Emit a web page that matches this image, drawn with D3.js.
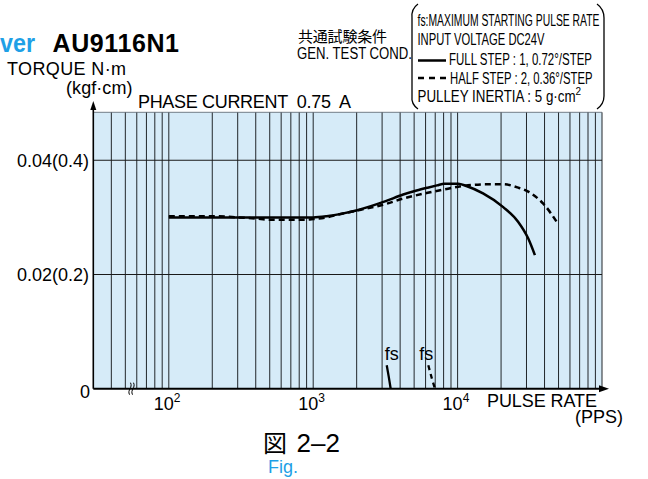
<!DOCTYPE html>
<html><head><meta charset="utf-8">
<script src="https://cdn.jsdelivr.net/npm/d3@7"></script>
<style>
html,body{margin:0;padding:0;background:#fff;}
svg{display:block;font-family:"Liberation Sans",Arial,sans-serif;}
</style></head>
<body>
<svg id="c" width="648" height="479"></svg>
<script>
// ---- data ----
const fullFreq   = [100, 200, 500, 1000, 1240, 1615, 2050, 3140, 4200, 5200, 6200, 7200, 8100, 9100, 10100, 11500, 15000, 20700, 26300, 30850, 34300];
const fullTorque = [0.0300, 0.0300, 0.0300, 0.0300, 0.0302, 0.0307, 0.0313, 0.0328, 0.0340, 0.0347, 0.0352, 0.0356, 0.0359, 0.0359, 0.0359, 0.0355, 0.0342, 0.0318, 0.0292, 0.0263, 0.0234];
const halfFreq   = [100, 200, 300, 400, 500, 700, 900, 1000, 1240, 1500, 2100, 3140, 4200, 6200, 8100, 11000, 15900, 20700, 26300, 30850, 39200, 49800];
const halfTorque = [0.0302, 0.0302, 0.0300, 0.0298, 0.0296, 0.0296, 0.0296, 0.0297, 0.0300, 0.0305, 0.0313, 0.0323, 0.0333, 0.0343, 0.0349, 0.0355, 0.0358, 0.0358, 0.0352, 0.0345, 0.0324, 0.0288];
const fsFullFreq   = [3230, 3330, 3440];
const fsFullTorque = [0.0041, 0.0022, 0.0000];
const fsHalfFreq   = [6270, 6600, 6970];
const fsHalfTorque = [0.0041, 0.0020, 0.0000];
const yTickValues = [0, 0.02, 0.04];
const yTickLabels = ["0", "0.02(0.2)", "0.04(0.4)"];
const xTickValues = [100, 1000, 10000];
const xTickBase = ["10", "10", "10"];
const xTickExp  = ["2", "3", "4"];
const legendLines = ["fs:MAXIMUM STARTING PULSE RATE", "INPUT VOLTAGE DC24V", "FULL STEP : 1, 0.72°/STEP", "HALF STEP : 2, 0.36°/STEP", "PULLEY INERTIA : 5 g·cm"];
const legendSup = ["", "", "", "", "2"];

// ---- scales ----
const x = d3.scaleLog().domain([30, 1e5]).range([93.3, 602]);
const y = d3.scaleLinear().domain([0, 0.0484]).range([388.7, 112.3]);
const svg = d3.select("#c");

// plot background
svg.append("rect").attr("x", x(30)).attr("y", y(0.0484)).attr("width", x(1e5) - x(30)).attr("height", y(0) - y(0.0484)).attr("fill", "#d6ebf8");

// vertical grid
const minor = [];
for (let e = 1; e <= 4; e++) for (let m = 1; m <= 9; m++) { const v = m * Math.pow(10, e); if (v > 30 && v <= 1e5) minor.push(v); }
minor.push(1e5);
svg.append("g").selectAll("line").data(minor).join("line")
  .attr("x1", d => x(d)).attr("x2", d => x(d)).attr("y1", y(0)).attr("y2", y(0.0484))
  .attr("stroke", "#22272b").attr("stroke-width", 1);
// horizontal grid
svg.append("g").selectAll("line").data([0.02, 0.04]).join("line")
  .attr("x1", x(30)).attr("x2", x(1e5)).attr("y1", d => y(d)).attr("y2", d => y(d))
  .attr("stroke", "#1a1a1a").attr("stroke-width", 1.1);
svg.append("line").attr("x1", x(30)).attr("x2", x(1e5)).attr("y1", y(0.0484)).attr("y2", y(0.0484)).attr("stroke", "#55606a").attr("stroke-width", 0.8);

// axes
svg.append("line").attr("x1", x(30)).attr("x2", 604).attr("y1", y(0)).attr("y2", y(0)).attr("stroke", "#000").attr("stroke-width", 2);
svg.append("path").attr("d", `M609,${y(0)} L599,${y(0) - 3.5} L599,${y(0) + 3.5} Z`).attr("fill", "#000");
svg.append("line").attr("x1", x(30)).attr("x2", x(30)).attr("y1", y(0)).attr("y2", 107).attr("stroke", "#000").attr("stroke-width", 1.6);
svg.append("path").attr("d", `M${x(30)},101 L${x(30) - 3},110 L${x(30) + 3},110 Z`).attr("fill", "#000");

// axis break mark
const bx = 131;
[0, 3].forEach(o => {
  svg.append("path").attr("d", `M${bx + o - 1.5},${y(0) + 6} C${bx + o - 4},${y(0) + 1} ${bx + o + 2},${y(0) - 1} ${bx + o - 0.5},${y(0) - 6}`)
    .attr("fill", "none").attr("stroke", "#000").attr("stroke-width", 1);
});

// curves
const line = d3.line().x(d => x(d[0])).y(d => y(d[1])).curve(d3.curveMonotoneX);
const lineY = d3.line().x(d => x(d[0])).y(d => y(d[1])).curve(d3.curveCatmullRom);
svg.append("path").attr("d", line(d3.zip(fullFreq, fullTorque))).attr("fill", "none").attr("stroke", "#000").attr("stroke-width", 2.5);
svg.append("path").attr("d", line(d3.zip(halfFreq, halfTorque))).attr("fill", "none").attr("stroke", "#000").attr("stroke-width", 2.5).attr("stroke-dasharray", "6,4");
svg.append("path").attr("d", lineY(d3.zip(fsFullFreq, fsFullTorque))).attr("fill", "none").attr("stroke", "#000").attr("stroke-width", 2.3);
svg.append("path").attr("d", lineY(d3.zip(fsHalfFreq, fsHalfTorque))).attr("fill", "none").attr("stroke", "#000").attr("stroke-width", 2.3).attr("stroke-dasharray", "5,4");
svg.append("text").attr("x", x(fsFullFreq[0]) + 5).attr("y", 360).attr("text-anchor", "middle").attr("font-size", 18).text("fs");
svg.append("text").attr("x", x(fsHalfFreq[0]) - 2).attr("y", 360).attr("text-anchor", "middle").attr("font-size", 18).text("fs");

// y tick labels
svg.append("g").selectAll("text").data(yTickValues).join("text")
  .attr("x", (d, i) => i === 0 ? 90 : 89).attr("y", (d, i) => i === 0 ? y(d) + 9 : y(d) + 6.5)
  .attr("text-anchor", "end").attr("font-size", 18).text((d, i) => yTickLabels[i]);

// x tick labels
const xt = svg.append("g").selectAll("text").data(xTickValues).join("text")
  .attr("x", d => x(d) - 15).attr("y", 410).attr("font-size", 18);
xt.append("tspan").text((d, i) => xTickBase[i]);
xt.append("tspan").attr("font-size", 12).attr("dy", -8).text((d, i) => xTickExp[i]);

// axis titles
svg.append("text").attr("x", 487).attr("y", 406.7).attr("font-size", 18).attr("textLength", 110).text("PULSE RATE");
svg.append("text").attr("x", 623).attr("y", 423.3).attr("text-anchor", "end").attr("font-size", 18).text("(PPS)");
svg.append("text").attr("x", 7).attr("y", 75).attr("font-size", 18).attr("textLength", 119).text("TORQUE N·m");
svg.append("text").attr("x", 66).attr("y", 94).attr("font-size", 18).attr("textLength", 66.5).text("(kgf·cm)");
svg.append("text").attr("x", 138).attr("y", 108).attr("font-size", 18).attr("textLength", 213).style("white-space", "pre").text("PHASE CURRENT  0.75  A");

// header
svg.append("text").attr("x", 0).attr("y", 51.7).attr("font-size", 25).attr("font-weight", "bold").attr("fill", "#1ea0e6").attr("textLength", 35).attr("lengthAdjust", "spacingAndGlyphs").text("ver");
svg.append("text").attr("x", 52.5).attr("y", 51.7).attr("font-size", 25).attr("font-weight", "bold").attr("textLength", 126.5).text("AU9116N1");

// test conditions
svg.append("text").attr("x", 298).attr("y", 41.5).attr("font-size", 15).attr("font-family", "'Noto Sans CJK JP',sans-serif").attr("textLength", 89).text("共通試験条件");
svg.append("text").attr("x", 297).attr("y", 58.5).attr("font-size", 16).attr("textLength", 115).attr("lengthAdjust", "spacingAndGlyphs").text("GEN. TEST COND.");

// legend bracket
svg.append("path").attr("d", "M418,4 Q411,9 412,18 L412,96 Q411,104 418,109").attr("fill", "none").attr("stroke", "#000").attr("stroke-width", 1.3);
svg.append("path").attr("d", "M597,4 Q604,9 604,18 L604,96 Q604,104 597,109").attr("fill", "none").attr("stroke", "#000").attr("stroke-width", 1.3);

const lgX = [417.5, 417.5, 449, 450, 417.5];
const lgY = [26, 45, 64.5, 83.5, 102];
const lgW = [182, 127, 143, 142.5, 158];
const lg = svg.append("g").selectAll("text").data(legendLines).join("text")
  .attr("x", (d, i) => lgX[i]).attr("y", (d, i) => lgY[i]).attr("font-size", 16)
  .attr("font-family", "'Liberation Sans Narrow','Liberation Sans',Arial,sans-serif");
lg.append("tspan").attr("textLength", (d, i) => lgW[i]).attr("lengthAdjust", "spacingAndGlyphs").text(d => d);
lg.append("tspan").attr("font-size", 10).attr("dy", -7).text((d, i) => legendSup[i]);
svg.append("line").attr("x1", 418).attr("x2", 446).attr("y1", 60.5).attr("y2", 60.5).attr("stroke", "#000").attr("stroke-width", 2.5);
svg.append("line").attr("x1", 418).attr("x2", 446).attr("y1", 78).attr("y2", 78).attr("stroke", "#000").attr("stroke-width", 2.5).attr("stroke-dasharray", "6,5");

// figure caption
svg.append("text").attr("x", 263).attr("y", 451.5).attr("font-size", 24).attr("font-family", "'Noto Sans CJK JP',sans-serif").text("図");
svg.append("text").attr("x", 296.5).attr("y", 451.5).attr("font-size", 26).text("2–2");
svg.append("text").attr("x", 268).attr("y", 473).attr("font-size", 18).attr("fill", "#1ea0e6").text("Fig.");
</script>
</body></html>
